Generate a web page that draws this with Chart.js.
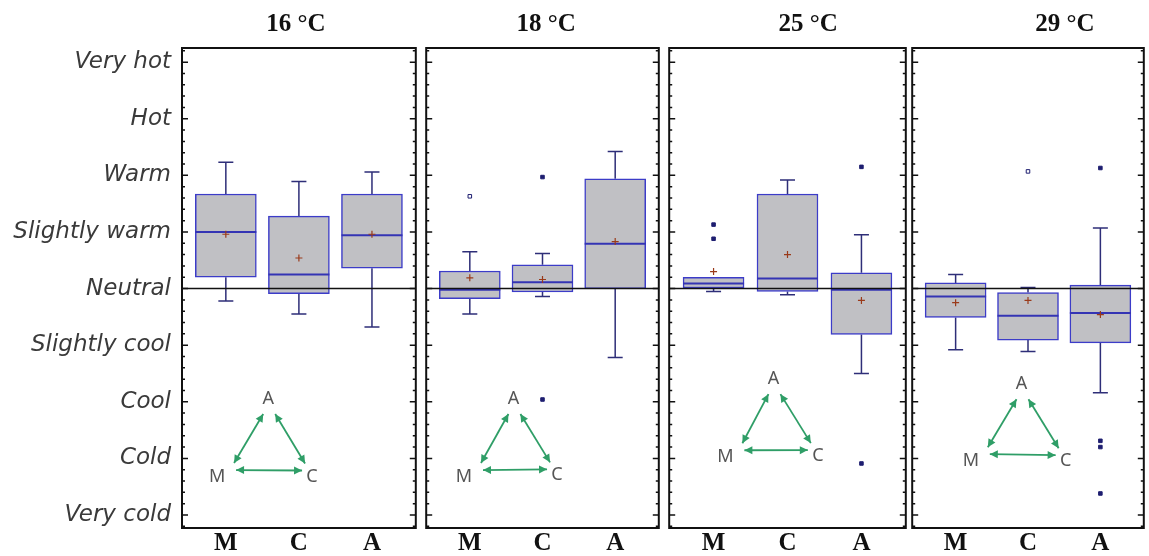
<!DOCTYPE html>
<html>
<head>
<meta charset="utf-8">
<script src="https://cdn.jsdelivr.net/npm/chart.js@4.4.1/dist/chart.umd.min.js"></script>
<style>
  body { margin: 0; background: #fff; width: 1149px; height: 556px; overflow: hidden; position: relative; }
  canvas { position: absolute; top: 0; }
</style>
</head>
<body>
<canvas id="p0" width="421" height="556" style="left:0px"></canvas>
<canvas id="p1" width="243" height="556" style="left:421px"></canvas>
<canvas id="p2" width="247" height="556" style="left:664px"></canvas>
<canvas id="p3" width="242" height="556" style="left:907px"></canvas>
<script>
// thermal sensation vote, -4 (very cold) .. +4 (very hot)
const categories = ['M', 'C', 'A'];
const panelTitles = ['16 °C', '18 °C', '25 °C', '29 °C'];
const sensationLabels = ['Very cold', 'Cold', 'Cool', 'Slightly cool', 'Neutral',
                         'Slightly warm', 'Warm', 'Hot', 'Very hot'];

// one row per panel, one value per category (M, C, A)
const whiskerLow = [
    [-0.22, -0.45, -0.68],
    [-0.45, -0.14, -1.22],
    [-0.05, -0.11, -1.50],
    [-1.08, -1.11, -1.84]
];
const q1 = [
    [0.20, -0.09, 0.36],
    [-0.18, -0.06, 0.00],
    [0.01, -0.05, -0.81],
    [-0.51, -0.91, -0.96]
];
const median = [
    [1.00, 0.25, 0.94],
    [-0.02, 0.11, 0.79],
    [0.09, 0.18, -0.02],
    [-0.14, -0.48, -0.43]
];
const q3 = [
    [1.67, 1.28, 1.67],
    [0.31, 0.42, 1.94],
    [0.20, 1.67, 0.28],
    [0.10, -0.07, 0.06]
];
const whiskerHigh = [
    [2.23, 1.89, 2.06],
    [0.65, 0.62, 2.42],
    [0.20, 1.92, 0.95],
    [0.25, 0.02, 1.07]
];
const means = [
    [0.96, 0.54, 0.96],
    [0.19, 0.16, 0.83],
    [0.30, 0.60, -0.21],
    [-0.25, -0.21, -0.46]
];
const outliers = [
    [],
    [{ cat: 'M', y: 1.63, open: true }, { cat: 'C', y: 1.97 }, { cat: 'C', y: -1.96 }],
    [{ cat: 'M', y: 1.13 }, { cat: 'M', y: 0.88 }, { cat: 'A', y: 2.15 }, { cat: 'A', y: -3.09 }],
    [{ cat: 'C', y: 2.07, open: true }, { cat: 'A', y: 2.13 }, { cat: 'A', y: -2.69 },
     { cat: 'A', y: -2.80 }, { cat: 'A', y: -3.62 }]
];

// layout (in axis units) for the titles and the M-C-A triangles
const titleAt = [1.96, 2.05, 2.28, 2.51];
const triangleAt = [
    { A: [1.58, -1.95], M: [0.88, -3.33], C: [2.18, -3.32] },
    { A: [1.60, -1.95], M: [0.92, -3.33], C: [2.20, -3.30] },
    { A: [1.81, -1.60], M: [1.16, -2.98], C: [2.41, -2.96] },
    { A: [1.91, -1.69], M: [1.21, -3.05], C: [2.52, -3.05] }
];
const panelLayout = [
    { padL: 0, padR: 2, axisW: 182 },
    { padL: 2, padR: 2 },
    { padL: 2, padR: 2 },
    { padL: 2, padR: 1 }
];

const BOX_W = 61;
const CAP_HALF = 7.5;
const WHISKER_COLOR = '#2e2e78';
const BOX_BORDER = '#3c3cc8';
const GREEN = '#2f9e67';

function drawArrow(ctx, x1, y1, x2, y2) {
    const ang = Math.atan2(y2 - y1, x2 - x1);
    const head = 8, wing = 4;
    ctx.beginPath();
    ctx.moveTo(x1, y1);
    ctx.lineTo(x2, y2);
    ctx.stroke();
    [[x1, y1, ang + Math.PI], [x2, y2, ang]].forEach(([hx, hy, a]) => {
        ctx.beginPath();
        ctx.moveTo(hx, hy);
        ctx.lineTo(hx - head * Math.cos(a) + wing * Math.sin(a), hy - head * Math.sin(a) - wing * Math.cos(a));
        ctx.lineTo(hx - head * Math.cos(a) - wing * Math.sin(a), hy - head * Math.sin(a) + wing * Math.cos(a));
        ctx.closePath();
        ctx.fill();
    });
}

const boxExtras = {
    id: 'boxExtras',
    beforeDatasetsDraw(chart, args, opts) {
        const { ctx, scales: { x, y } } = chart;
        const p = opts.panel;
        ctx.save();
        ctx.strokeStyle = WHISKER_COLOR;
        ctx.lineWidth = 1.5;
        categories.forEach((c, k) => {
            const px = x.getPixelForValue(k + 1);
            [[q3[p][k], whiskerHigh[p][k]], [q1[p][k], whiskerLow[p][k]]].forEach(([from, to]) => {
                if (from === to) return;
                const yt = y.getPixelForValue(to);
                ctx.beginPath();
                ctx.moveTo(px, y.getPixelForValue(from));
                ctx.lineTo(px, yt);
                ctx.moveTo(px - CAP_HALF, yt);
                ctx.lineTo(px + CAP_HALF, yt);
                ctx.stroke();
            });
        });
        ctx.restore();
    },
    afterDatasetDraw(chart, args, opts) {
        if (args.index !== 0) return;
        const { ctx, scales: { x, y } } = chart;
        const p = opts.panel;
        ctx.save();
        ctx.strokeStyle = '#3434b4';
        ctx.lineWidth = 2;
        categories.forEach((c, k) => {
            const px = x.getPixelForValue(k + 1);
            const py = y.getPixelForValue(median[p][k]);
            ctx.beginPath();
            ctx.moveTo(px - BOX_W / 2, py);
            ctx.lineTo(px + BOX_W / 2, py);
            ctx.stroke();
        });
        ctx.restore();
    },
    afterDatasetsDraw(chart, args, opts) {
        const { ctx, chartArea: a, scales: { x, y } } = chart;
        const p = opts.panel;
        ctx.save();

        // neutral reference line
        ctx.strokeStyle = '#111';
        ctx.lineWidth = 1.5;
        const y0 = y.getPixelForValue(0);
        ctx.beginPath();
        ctx.moveTo(a.left, y0);
        ctx.lineTo(a.right, y0);
        ctx.stroke();

        // frame
        ctx.lineWidth = 2;
        ctx.strokeRect(a.left, a.top, a.right - a.left, a.bottom - a.top);

        // inward ticks on both sides
        ctx.lineWidth = 1.5;
        for (let i = -21; i <= 21; i++) {
            const py = y.getPixelForValue(i / 5);
            const len = i % 5 === 0 ? 6 : 3;
            ctx.beginPath();
            ctx.moveTo(a.left, py);
            ctx.lineTo(a.left + len, py);
            ctx.moveTo(a.right, py);
            ctx.lineTo(a.right - len, py);
            ctx.stroke();
        }

        // M-C-A comparison triangle
        const t = triangleAt[p];
        const pos = k => [x.getPixelForValue(t[k][0]), y.getPixelForValue(t[k][1])];
        const [ax, ay] = pos('A'), [mx, my] = pos('M'), [cx, cy] = pos('C');
        ctx.fillStyle = '#555';
        ctx.font = '18px "Noto Sans"';
        ctx.textAlign = 'center';
        ctx.textBaseline = 'middle';
        ctx.fillText('A', ax, ay);
        ctx.fillText('M', mx, my);
        ctx.fillText('C', cx, cy);
        ctx.strokeStyle = GREEN;
        ctx.fillStyle = GREEN;
        ctx.lineWidth = 1.8;
        drawArrow(ctx, ax - 5, ay + 15, mx + 17, my - 14);
        drawArrow(ctx, ax + 7, ay + 15, cx - 7, cy - 13);
        drawArrow(ctx, mx + 19, my - 7, cx - 10, cy - 6);
        ctx.restore();
    },
    afterDraw(chart, args, opts) {
        const { ctx, scales: { x } } = chart;
        ctx.save();
        ctx.fillStyle = '#111';
        ctx.font = 'bold 25px "Liberation Serif"';
        ctx.textAlign = 'center';
        ctx.textBaseline = 'middle';
        ctx.fillText(panelTitles[opts.panel], x.getPixelForValue(titleAt[opts.panel]), 25);
        ctx.restore();
    }
};

function makePanel(p) {
    const lay = panelLayout[p];
    const boxes = categories.map((c, k) => ({ x: k + 1, y: [q1[p][k], q3[p][k]] }));
    const meanPts = categories.map((c, k) => ({ x: k + 1, y: means[p][k] }));
    const outPts = outliers[p].map(o => ({ x: categories.indexOf(o.cat) + 1, y: o.y }));
    const outFill = outliers[p].map(o => o.open ? '#ffffff' : '#1e1e70');

    new Chart(document.getElementById('p' + p), {
        type: 'bar',
        data: {
            datasets: [{
                data: boxes,
                backgroundColor: '#c0c0c4',
                borderColor: BOX_BORDER,
                borderWidth: 1.5,
                borderSkipped: false,
                barThickness: BOX_W,
                order: 3
            }, {
                type: 'scatter',
                data: meanPts,
                pointStyle: 'cross',
                pointRadius: 3.5,
                borderColor: '#9a3a1a',
                borderWidth: 1.2,
                order: 1
            }, {
                type: 'scatter',
                data: outPts,
                pointStyle: 'rect',
                pointRadius: 2.5,
                backgroundColor: outFill,
                borderColor: '#1e1e70',
                borderWidth: 1,
                order: 2
            }]
        },
        options: {
            responsive: false,
            animation: false,
            events: [],
            layout: { padding: { top: 48, bottom: 0, left: lay.padL, right: lay.padR } },
            plugins: {
                legend: { display: false },
                tooltip: { enabled: false },
                boxExtras: { panel: p }
            },
            scales: {
                x: {
                    type: 'linear',
                    min: 0.4,
                    max: 3.6,
                    offset: false,
                    grid: { display: false, drawTicks: false },
                    border: { display: false },
                    afterBuildTicks: axis => { axis.ticks = categories.map((c, k) => ({ value: k + 1 })); },
                    afterFit: axis => { axis.height = 28; },
                    ticks: {
                        autoSkip: false,
                        maxRotation: 0,
                        padding: 1,
                        color: '#111',
                        font: { family: '"Liberation Serif"', weight: 'bold', size: 25, lineHeight: 1.2 },
                        callback: v => categories[v - 1]
                    }
                },
                y: {
                    type: 'linear',
                    min: -4.23,
                    max: 4.25,
                    display: p === 0,
                    grid: { display: false, drawTicks: false },
                    border: { display: false },
                    afterBuildTicks: axis => {
                        axis.ticks = sensationLabels.map((s, k) => ({ value: k - 4 }));
                    },
                    afterFit: axis => { if (lay.axisW) axis.width = lay.axisW; },
                    ticks: {
                        padding: 11,
                        color: '#3a3a3a',
                        font: { family: '"DejaVu Sans"', style: 'italic', size: 23 },
                        callback: v => sensationLabels[v + 4]
                    }
                }
            }
        },
        plugins: [boxExtras]
    });
}

[0, 1, 2, 3].forEach(makePanel);
</script>
</body>
</html>
